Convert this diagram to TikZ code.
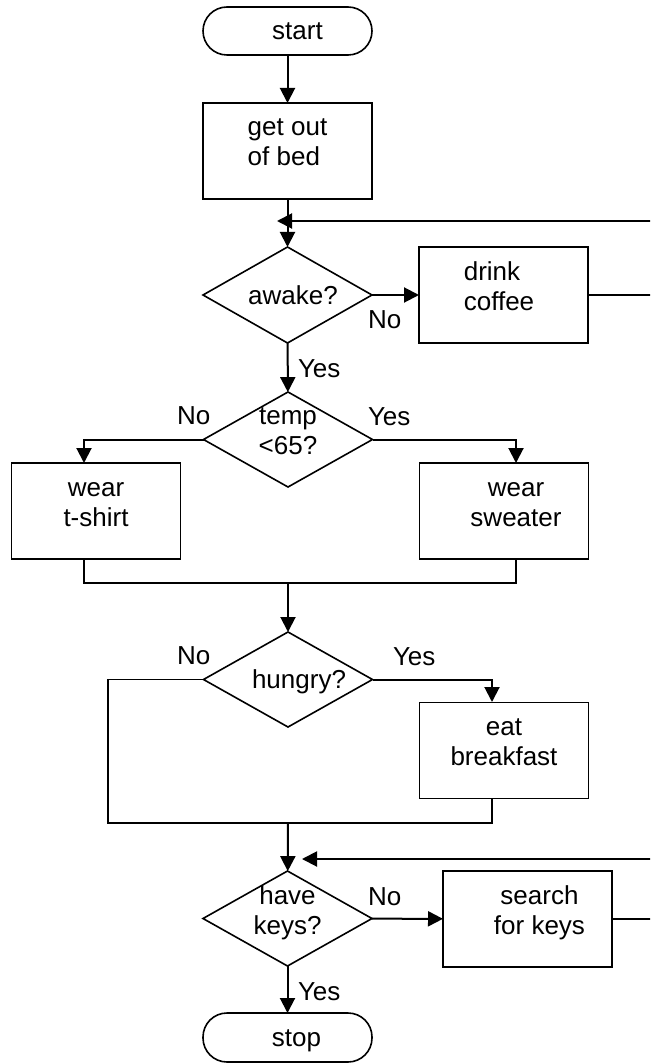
\documentclass[tikz,border=0pt]{standalone}
\usepackage{fontspec}
\setmainfont{Liberation Sans}
\usetikzlibrary{shapes.geometric,arrows.meta}
% struts that make a two-line label sit symmetrically about the node centre
\newcommand\upstrut{\rule{0pt}{20pt}}
\newcommand\dnstrut{\rule[-20pt]{0pt}{20pt}}
\begin{document}
\begin{tikzpicture}[x=1pt,y=-1pt,
  every node/.style={font=\fontsize{26}{30}\selectfont, inner sep=0pt, outer sep=0pt},
  shapebase/.style={draw, line width=1.6pt, minimum width=169pt},
  terminal/.style={shapebase, rectangle, rounded corners=24pt, minimum height=48pt},
  process/.style={shapebase, rectangle, minimum height=96pt},
  decision/.style={shapebase, diamond, aspect=1.76, minimum height=96pt},
  oneline/.style={text height=18pt, text depth=0pt},
  twoline/.style={align=center},
  twoleft/.style={align=left},
  conn/.style={line width=2pt, -{Triangle[length=15pt,width=15pt]}},
  link/.style={line width=1.7pt},
  branch/.style={anchor=base west},
]
\useasboundingbox (0,0) rectangle (650,1064);
\clip (0,0) rectangle (650,1064);
\fill[white] (0,0) rectangle (650,1064);

% shapes
\node[terminal, label={[oneline,xshift=10pt]center:start}] (start) at (287.5,31) {};
\node[process, label={[twoleft]center:{\upstrut get out\\of bed\dnstrut}}] (bed) at (287.5,151) {};
\node[decision, label={[oneline,xshift=5.5pt]center:awake?}] (awake) at (287.5,295) {};
\node[process, label={[twoleft,xshift=-4.5pt]center:{\upstrut drink\\coffee\dnstrut}}] (coffee) at (503.5,295) {};
\node[decision, minimum height=95pt, label={[twoline]center:{\upstrut temp\\<65?\dnstrut}}] (temp) at (288,439.5) {};
\node[process, label={[twoline]center:{\upstrut wear\\t-shirt\dnstrut}}] (tshirt) at (96,511) {};
\node[process, label={[twoline,xshift=12pt]center:{\upstrut wear\\sweater\dnstrut}}] (sweater) at (504,511) {};
\node[decision, minimum height=95pt, label={[oneline,xshift=11pt]center:hungry?}] (hungry) at (288,679.5) {};
\node[process, label={[twoline]center:{\upstrut eat\\breakfast\dnstrut}}] (eat) at (504,750.5) {};
\node[decision, minimum height=95pt, label={[twoline,yshift=-1pt]center:{\upstrut have\\keys?\dnstrut}}] (keys) at (287.5,918.5) {};
\node[process, label={[twoline,xshift=12pt]center:{\upstrut search\\for keys\dnstrut}}] (search) at (527.5,919) {};
\node[terminal, minimum height=49pt, label={[oneline,xshift=9pt]center:stop}] (stop) at (287.5,1037.5) {};

% bend and junction points
\coordinate (fbA) at (277,221);
\coordinate (loopA) at (670,221);
\coordinate (tsIn) at (84,463);
\coordinate (swIn) at (516,463);
\coordinate (tsOut) at (84,559);
\coordinate (swOut) at (516,559);
\coordinate (mergeA) at (288,583);
\coordinate (eatIn) at (492,702);
\coordinate (eatOut) at (492,799);
\coordinate (skip) at (108,823);
\coordinate (mergeB) at (288,823);
\coordinate (fbB) at (302,859);
\coordinate (loopB) at (670,859);

% connectors
\draw[conn] (start) -- (bed);
\draw[conn] (bed) -- (awake);
\draw[conn] (awake) -- (coffee);
\draw[conn] (coffee.east) -| (loopA) -- (fbA);
\draw[conn] (awake) -- (temp);
\draw[conn] (temp.west) -| (tsIn);
\draw[conn] (temp.east) -| (swIn);
\draw[link] (tsOut) |- (mergeA) -| (swOut);
\draw[conn] (mergeA) -- (hungry);
\draw[conn] (hungry.east) -| (eatIn);
\draw[link] (hungry.west) -| (skip) -- (mergeB) -| (eatOut);
\draw[conn] (mergeB) -- (keys);
\draw[conn] (search.east) -| (loopB) -- (fbB);
\draw[conn] (keys) -- (search);
\draw[conn] (keys) -- (stop);

% branch labels
\node[branch] (noA) at (368,328) {No};
\node[branch] (yesA) at (298,377) {Yes};
\node[branch] (noT) at (177,424) {No};
\node[branch] (yesT) at (368,425) {Yes};
\node[branch] (noH) at (177,664) {No};
\node[branch] (yesH) at (393,665) {Yes};
\node[branch] (noK) at (368,905) {No};
\node[branch] (yesK) at (298,1000) {Yes};
\end{tikzpicture}
\end{document}
